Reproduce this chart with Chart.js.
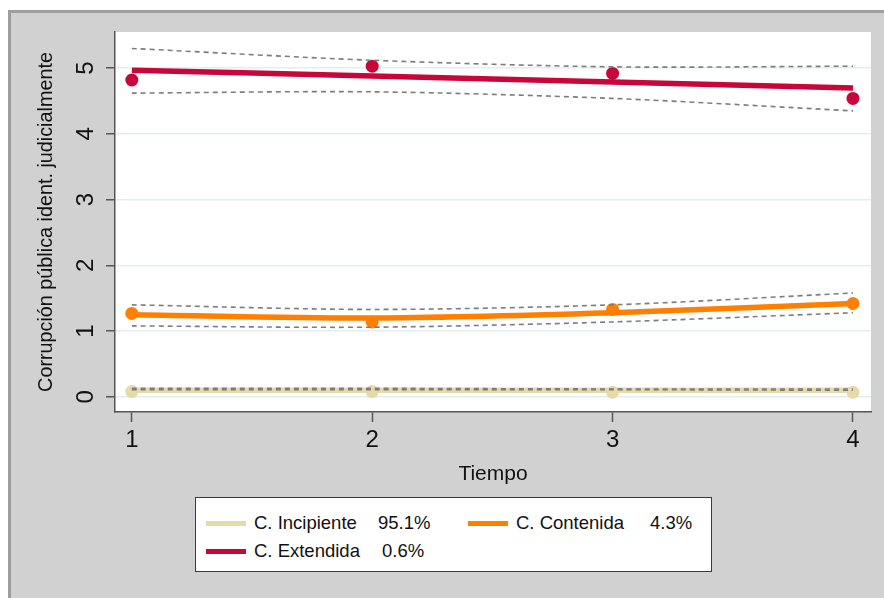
<!DOCTYPE html>
<html>
<head>
<meta charset="utf-8">
<script src="https://cdn.jsdelivr.net/npm/chart.js@4/dist/chart.umd.min.js"></script>
<style>
	body { margin: 0; background: #fff; font-family: "Liberation Sans", Arial, sans-serif; }
	#wrap { position: relative; width: 884px; height: 598px; overflow: hidden; }
	#frame { position: absolute; left: 8px; top: 10px; right: -4px; bottom: -4px; background: #d1d1d1; border-top: 3px solid #9e9e9e; border-left: 3px solid #9e9e9e; }
	#chart { position: absolute; left: 0; top: 0; }
	#legend { position: absolute; left: 195px; top: 497px; width: 515px; height: 73px; background: #fff; border: 1.5px solid #3a3a3a; }
	.item { position: absolute; font-size: 18.5px; color: #111; line-height: 20px; }
	.swatch { position: absolute; width: 40px; height: 5px; }
</style>
</head>
<body>
<div id="wrap">
	<div id="frame"></div>
	<canvas id="chart" width="884" height="598"></canvas>
	<div id="legend"></div>
</div>
<script>
const times = [1, 2, 3, 4];
const xTicks = [1, 2, 3, 4];
const yTicks = [0, 1, 2, 3, 4, 5];

const groupNames = ['C. Incipiente', 'C. Contenida', 'C. Extendida'];
const groupShares = ['95.1%', '4.3%', '0.6%'];
const groupColors = ['#e6d9aa', '#ff7f00', '#c8063a'];

// observed means
const obsIncipiente = [0.08, 0.08, 0.07, 0.07];
const obsContenida = [1.27, 1.14, 1.33, 1.42];
const obsExtendida = [4.82, 5.03, 4.92, 4.54];

// fitted trajectories
const fitIncipiente = [0.10, 0.10, 0.10, 0.10];
const fitContenida = [1.25, 1.20, 1.28, 1.42];
const fitExtendida = [4.97, 4.88, 4.79, 4.70];

// confidence bands
const upIncipiente = [0.13, 0.13, 0.12, 0.12];
const loIncipiente = [0.11, 0.11, 0.11, 0.10];
const upContenida = [1.40, 1.33, 1.40, 1.58];
const loContenida = [1.08, 1.06, 1.14, 1.28];
const upExtendida = [5.30, 5.12, 5.02, 5.03];
const loExtendida = [4.62, 4.64, 4.54, 4.35];

const pts = arr => arr.map((v, i) => ({ x: times[i], y: v }));

const bandStyle = {
	showLine: true,
	borderColor: '#7d7d7d',
	borderWidth: 1.6,
	borderDash: [5, 4],
	pointRadius: 0,
	tension: 0.3,
	fill: false,
};

const fitted = [fitIncipiente, fitContenida, fitExtendida];
const observed = [obsIncipiente, obsContenida, obsExtendida];
const bands = [[upIncipiente, loIncipiente], [upContenida, loContenida], [upExtendida, loExtendida]];

let datasets = [];
for (let i = 0; i < 3; i++) {
	datasets.push({ ...bandStyle, data: pts(bands[i][0]) });
	datasets.push({ ...bandStyle, data: pts(bands[i][1]) });
}
for (let i = 0; i < 3; i++) {
	datasets.push({
		data: pts(observed[i]),
		showLine: false,
		pointRadius: 6.5,
		pointBackgroundColor: groupColors[i],
		pointBorderWidth: 0,
	});
}
for (let i = 0; i < 3; i++) {
	datasets.push({
		label: groupNames[i],
		data: pts(fitted[i]),
		showLine: true,
		borderColor: groupColors[i],
		borderWidth: 5.5,
		pointRadius: 0,
		tension: 0.3,
	});
}

const plotBg = {
	id: 'plotBg',
	beforeDraw(chart) {
		const { ctx, chartArea: a } = chart;
		ctx.save();
		ctx.fillStyle = '#fff';
		ctx.fillRect(a.left, a.top, a.right - a.left, a.bottom - a.top);
		ctx.restore();
	},
};

const font = 'Liberation Sans, Arial, sans-serif';

new Chart(document.getElementById('chart'), {
	type: 'scatter',
	data: { datasets },
	plugins: [plotBg],
	options: {
		responsive: false,
		animation: false,
		layout: { padding: { left: 35, top: 32, right: 13, bottom: 111 } },
		plugins: { legend: { display: false }, tooltip: { enabled: false } },
		scales: {
			x: {
				type: 'linear',
				min: 0.93,
				max: 4.075,
				afterBuildTicks: s => { s.ticks = xTicks.map(v => ({ value: v })); },
				afterFit: s => { s.height = 75; },
				ticks: { font: { family: font, size: 24 }, color: '#111', padding: 4 },
				grid: { drawOnChartArea: false, tickLength: 10, tickColor: '#555', tickWidth: 1.5 },
				border: { color: '#555', width: 1.5 },
				title: { display: true, text: 'Tiempo', font: { family: font, size: 21 }, color: '#111', padding: 0 },
			},
			y: {
				type: 'linear',
				min: -0.23,
				max: 5.55,
				afterBuildTicks: s => { s.ticks = yTicks.map(v => ({ value: v })); },
				afterFit: s => { s.width = 80; },
				ticks: { font: { family: font, size: 24 }, color: '#111', padding: 13, minRotation: 90, maxRotation: 90, crossAlign: 'center' },
				grid: { color: '#e3eef0', lineWidth: 1.5, tickLength: 9, tickColor: '#555', tickWidth: 1.5 },
				border: { color: '#555', width: 1.5 },
				title: { display: true, text: 'Corrupción pública ident. judicialmente', font: { family: font, size: 19.8 }, color: '#111', padding: 0 },
			},
		},
	},
});

// legend box (Stata style)
const legendRows = [
	{ g: 0, sx: 10, ty: 26, nameX: 58, shareX: 182 },
	{ g: 1, sx: 272, ty: 26, nameX: 320, shareX: 454 },
	{ g: 2, sx: 10, ty: 54, nameX: 58, shareX: 186 },
];
const legend = document.getElementById('legend');
legendRows.forEach(r => {
	const sw = document.createElement('div');
	sw.className = 'swatch';
	sw.style.left = r.sx + 'px';
	sw.style.top = (r.ty - 3) + 'px';
	sw.style.background = groupColors[r.g];
	legend.appendChild(sw);
	const name = document.createElement('div');
	name.className = 'item';
	name.style.left = r.nameX + 'px';
	name.style.top = (r.ty - 11) + 'px';
	name.textContent = groupNames[r.g];
	legend.appendChild(name);
	const share = document.createElement('div');
	share.className = 'item';
	share.style.left = r.shareX + 'px';
	share.style.top = (r.ty - 11) + 'px';
	share.textContent = groupShares[r.g];
	legend.appendChild(share);
});
</script>
</body>
</html>
